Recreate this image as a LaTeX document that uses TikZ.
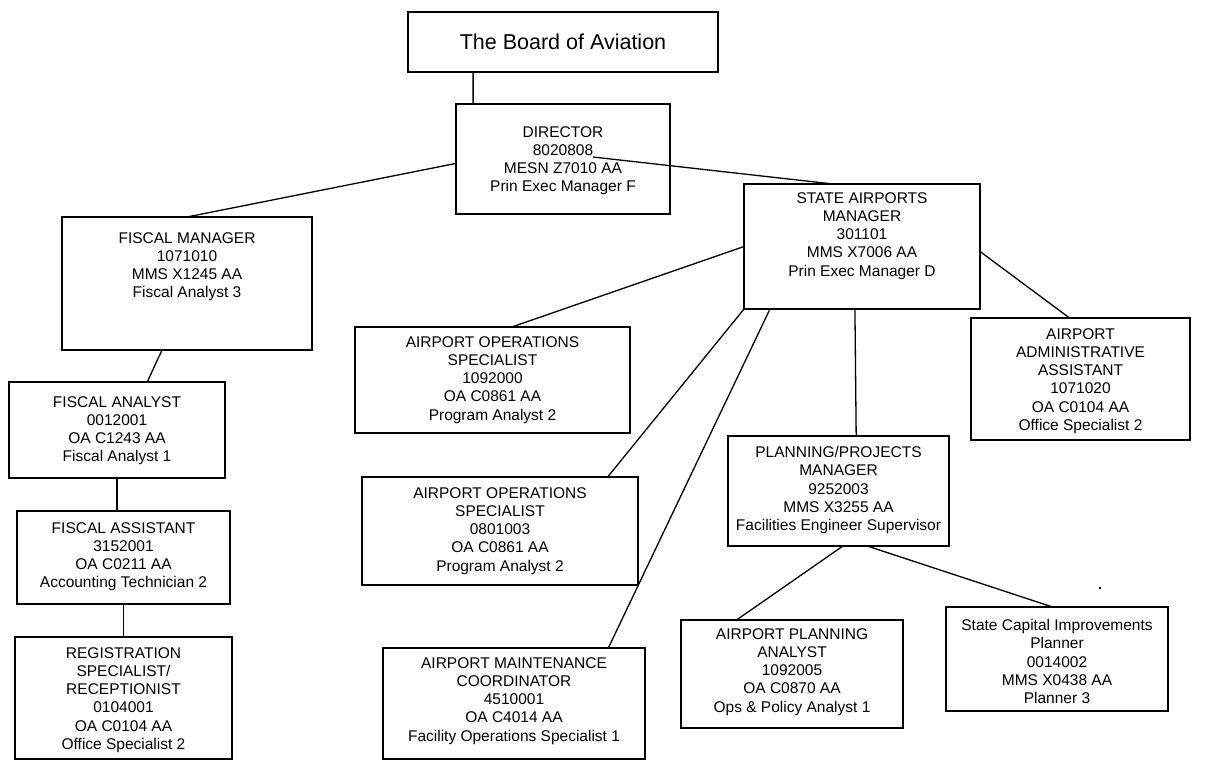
\documentclass[tikz,border=0pt]{standalone}
\usepackage{fontspec}
\setmainfont{Liberation Sans}
\usetikzlibrary{calc}
\newcommand{\orgbox}[5]{%
  \node[orgrect, anchor=north west, minimum width={#4-#2}, minimum height={#5-#3}] (#1) at (#2,#3) {};}
\begin{document}
\begin{tikzpicture}[x=1pt, y=-1pt,
  orgrect/.style={draw, line width=1.3pt, inner sep=0pt, outer sep=0pt},
  txt/.style={font=\fontsize{15.5}{18.3}\selectfont, align=center, inner sep=0pt, anchor=north},
  link/.style={line width=1.3pt}]
\useasboundingbox (0,0) rectangle (1222,761);
% boxes
\orgbox{board}{408}{12}{718}{72}
\orgbox{dir}{456}{104}{670}{214}
\orgbox{sam}{744}{184}{980}{309}
\orgbox{fm}{62}{217}{312}{350}
\orgbox{fa}{9}{382}{225}{478}
\orgbox{fas}{17}{511}{230}{604}
\orgbox{reg}{15}{637}{232}{759}
\orgbox{aos1}{355}{327}{630}{433}
\orgbox{aos2}{362}{477}{638}{585}
\orgbox{amc}{383}{648}{645}{759}
\orgbox{aaa}{971}{318}{1190}{440}
\orgbox{ppm}{728}{436}{949}{546}
\orgbox{apa}{681}{620}{903}{728}
\orgbox{scip}{946}{607}{1168}{711}
% texts
\node[font=\fontsize{21.5}{24}\selectfont, inner sep=0pt] (boardt) at (board.center) {The Board of Aviation};
\node[txt] (dirt) at (563,126) {DIRECTOR\\8020808\\MESN Z7010 AA\\Prin Exec Manager F};
\node[txt] (samt) at (862,192) {STATE AIRPORTS\\MANAGER\\301101\\MMS X7006 AA\\Prin Exec Manager D};
\node[txt] (fmt) at (187,232) {FISCAL MANAGER\\1071010\\MMS X1245 AA\\Fiscal Analyst 3};
\node[txt] (fat) at (117,396) {FISCAL ANALYST\\0012001\\OA C1243 AA\\Fiscal Analyst 1};
\node[txt] (fast) at (123.5,522) {FISCAL ASSISTANT\\3152001\\OA C0211 AA\\Accounting Technician 2};
\node[txt] (regt) at (123.5,647) {REGISTRATION\\SPECIALIST/\\RECEPTIONIST\\0104001\\OA C0104 AA\\Office Specialist 2};
\node[txt] (aos1t) at (492.5,336) {AIRPORT OPERATIONS\\SPECIALIST\\1092000\\OA C0861 AA\\Program Analyst 2};
\node[txt] (aos2t) at (500,487) {AIRPORT OPERATIONS\\SPECIALIST\\0801003\\OA C0861 AA\\Program Analyst 2};
\node[txt] (amct) at (514,657) {AIRPORT MAINTENANCE\\COORDINATOR\\4510001\\OA C4014 AA\\Facility Operations Specialist 1};
\node[txt] (aaat) at (1080.5,328) {AIRPORT\\ADMINISTRATIVE\\ASSISTANT\\1071020\\OA C0104 AA\\Office Specialist 2};
\node[txt] (ppmt) at (838.5,446) {PLANNING/PROJECTS\\MANAGER\\9252003\\MMS X3255 AA\\Facilities Engineer Supervisor};
\node[txt] (apat) at (792,628) {AIRPORT PLANNING\\ANALYST\\1092005\\OA C0870 AA\\Ops \& Policy Analyst 1};
\node[txt] (scipt) at (1057,619) {State Capital Improvements\\Planner\\0014002\\MMS X0438 AA\\Planner 3};
% connectors
\coordinate (dirj) at (593,157);
\draw[link] ($(board.south west)!0.21!(board.south east)$) -- ($(dir.north west)!0.08!(dir.north east)$);
\draw[link] ($(dir.north west)!0.54!(dir.south west)$) -- (fm.north);
\draw[link] (dirj) -- ($(sam.north west)!0.377!(sam.north east)$);
\draw[link] ($(fm.south west)!0.40!(fm.south east)$) -- ($(fa.north west)!0.64!(fa.north east)$);
\draw[link] (fa.south) -- (fa.south |- fas.north);
\draw[link] (fas.south) -- (fas.south |- reg.north);
\draw[link] (sam.west) -- ($(aos1.north west)!0.57!(aos1.north east)$);
\draw[link] (sam.south west) -- ($(aos2.north west)!0.89!(aos2.north east)$);
\draw[link] ($(sam.south west)!0.11!(sam.south east)$) -- ($(amc.north west)!0.86!(amc.north east)$);
\draw[link] ($(sam.south west)!0.47!(sam.south east)$) -- ($(ppm.north west)!0.58!(ppm.north east)$);
\draw[link] ($(sam.north east)!0.54!(sam.south east)$) -- ($(aaa.north west)!0.45!(aaa.north east)$);
\draw[link] ($(ppm.south west)!0.52!(ppm.south east)$) -- ($(apa.north west)!0.25!(apa.north east)$);
\draw[link] ($(ppm.south west)!0.63!(ppm.south east)$) -- ($(scip.north west)!0.48!(scip.north east)$);
% stray dot
\fill (1100,588) circle (1.3);
\end{tikzpicture}
\end{document}
